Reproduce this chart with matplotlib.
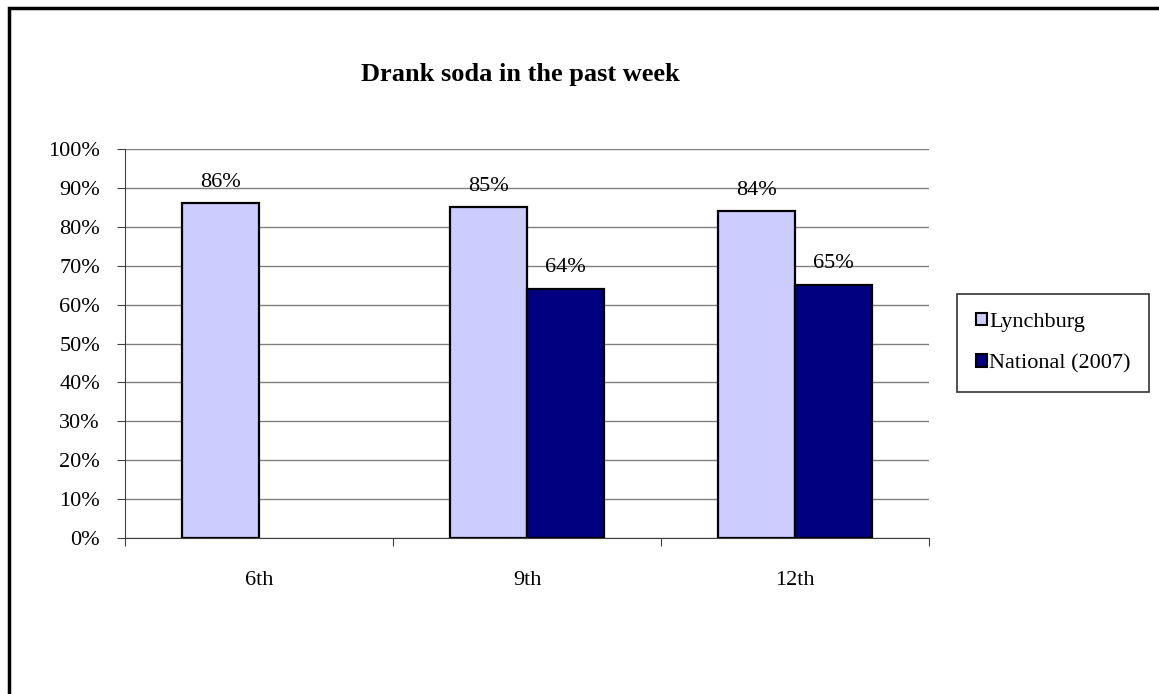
import numpy as np
import matplotlib
matplotlib.use('Agg')
import matplotlib.pyplot as plt
from matplotlib.patches import Rectangle

grades = ['6th', '9th', '12th']
lynchburg = [86, 85, 84]
national = [np.nan, 64, 65]
series_names = ['Lynchburg', 'National (2007)']
colors = ['#CCCCFF', '#000080']

plt.rcParams['font.family'] = ['Liberation Serif', 'DejaVu Serif']

W, H = 1159, 694
fig = plt.figure(figsize=(W / 100, H / 100), dpi=100)

# outer chart border (runs off the right and bottom edges)
fig.patches.append(Rectangle((9 / W, -0.05), 1.1, 1 - 8 / H + 0.05,
                             transform=fig.transFigure, fill=False,
                             edgecolor='black', linewidth=2.5))

ax = fig.add_axes([125 / W, 1 - 538 / H, (929 - 125) / W, (538 - 149) / H])

x = np.arange(len(grades))
bw = 77 / 268
for vals, off, c in [(lynchburg, -bw / 2, colors[0]), (national, bw / 2, colors[1])]:
    v = np.array(vals, dtype=float)
    m = ~np.isnan(v)
    ax.bar(x[m] + off, v[m], width=bw, color=c, edgecolor='black',
           linewidth=1.6, zorder=3)
    for xi, vi in zip(x[m] + off, v[m]):
        ax.text(xi, vi + 3.0, f'{vi:.0f}%', ha='center', va='bottom', fontsize=16)

ax.set_xlim(-0.5, 2.5)
ax.set_ylim(0, 100)
ax.set_yticks(np.arange(0, 101, 10))
ax.set_yticklabels([f'{t}%' for t in range(0, 101, 10)], fontsize=16)
ax.yaxis.grid(True, color='#808080', linewidth=1, zorder=0)
ax.set_axisbelow(True)

ax.set_xticks([-0.5, 0.5, 1.5, 2.5])
ax.set_xticklabels([])
ax.set_xticks(x, minor=True)
ax.set_xticklabels(grades, minor=True, fontsize=16)
ax.tick_params(axis='x', which='minor', length=0, pad=24)
ax.tick_params(axis='x', which='major', length=6, direction='out', color='#404040')
ax.tick_params(axis='y', length=6, direction='out', color='#404040', pad=12)

for s in ['top', 'right']:
    ax.spines[s].set_visible(False)
ax.spines['left'].set_color('#404040')
ax.spines['bottom'].set_color('#404040')

fig.text(520 / W, 1 - 75 / H, 'Drank soda in the past week', ha='center',
         va='center', fontsize=19, fontweight='bold')

handles = [Rectangle((0, 0), 1, 1, facecolor=c, edgecolor='black', linewidth=1.5)
           for c in colors]
leg = fig.legend(handles, series_names, loc='center',
                 bbox_to_anchor=(1053 / W, 1 - 343 / H), fontsize=16,
                 frameon=True, fancybox=False, edgecolor='black',
                 handlelength=0.5, handleheight=0.5, handletextpad=0.1,
                 labelspacing=1.0, borderpad=0.85)
leg.get_frame().set_linewidth(1.2)

fig.savefig('out.png', dpi=100)
